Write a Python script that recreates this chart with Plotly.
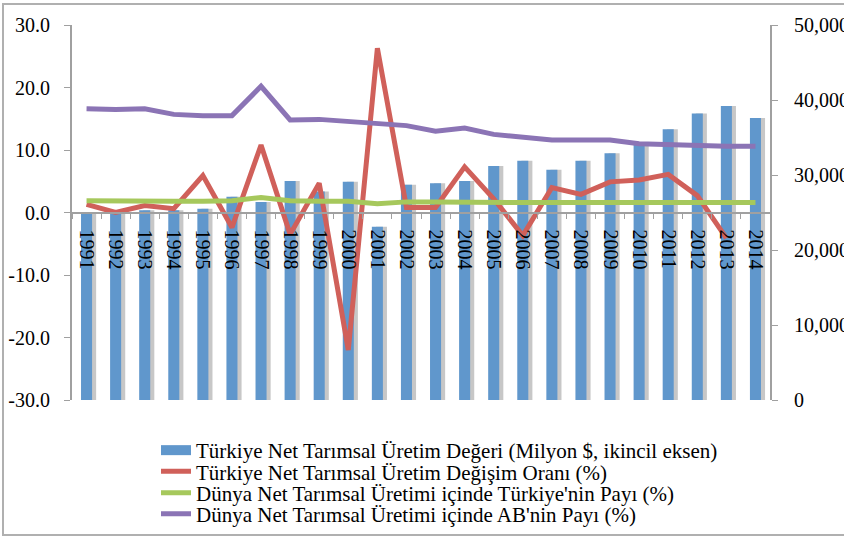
import plotly.graph_objects as go

# data
years = [str(y) for y in range(1991, 2015)]

net_value = [24900, 25000, 25300, 25300, 25500, 27100, 26400, 29200, 27800, 29100,
             23100, 28700, 28900, 29200, 31200, 31900, 30700, 31900, 32900, 34300,
             36100, 38200, 39200, 37600]

change_rate = [1.3, 0.0, 1.1, 0.6, 5.9, -2.4, 10.8, -3.5, 4.7, -22.0,
               26.3, 0.8, 0.8, 7.3, 2.2, -3.7, 4.0, 2.9, 4.9, 5.2,
               6.1, 2.7, -4.1, None]

tr_share = [1.9, 1.8, 1.8, 1.8, 1.8, 1.9, 2.4, 1.9, 1.8, 1.8,
            1.4, 1.7, 1.7, 1.6, 1.6, 1.6, 1.6, 1.6, 1.6, 1.6,
            1.6, 1.6, 1.6, 1.6]

eu_share = [16.6, 16.5, 16.6, 15.7, 15.5, 15.5, 20.2, 14.8, 14.9, 14.5,
            14.1, 13.9, 13.0, 13.5, 12.5, 12.1, 11.6, 11.6, 11.6, 11.0,
            10.9, 10.6, 10.6, 10.6]

left_ticks = [-30, -20, -10, 0, 10, 20, 30]
left_labels = ["-30.0", "-20.0", "-10.0", "0.0", "10.0", "20.0", "30.0"]

names = ["Türkiye Net Tarımsal Üretim Değeri (Milyon $, ikincil eksen)",
         "Türkiye Net Tarımsal Üretim Değişim Oranı (%)",
         "Dünya Net Tarımsal Üretimi içinde Türkiye'nin Payı (%)",
         "Dünya Net Tarımsal Üretimi içinde AB'nin Payı (%)"]

BLUE = "#6097CC"
RED = "#D0605A"
GREEN = "#A6C85C"
PURPLE = "#8B74B5"
FONT = "Liberation Serif"

fig = go.Figure()

# bar shadow
fig.add_trace(go.Bar(x=years, y=net_value, yaxis="y", width=0.38, offset=-0.05,
                     marker=dict(color="rgba(70,70,70,0.3)", line_width=0),
                     showlegend=False, hoverinfo="skip"))
# bars (right axis, drawn under the lines)
fig.add_trace(go.Bar(x=years, y=net_value, yaxis="y", width=0.38, offset=-0.19,
                     marker=dict(color=BLUE, line_width=0),
                     name=names[0], showlegend=False))
# legend entry for bars
fig.add_trace(go.Scatter(x=[None], y=[None], yaxis="y2", mode="lines",
                         line=dict(color=BLUE, width=10), name=names[0], legend="legend"))

fig.add_trace(go.Scatter(x=years, y=change_rate, yaxis="y2", mode="lines",
                         line=dict(color=RED, width=5), name=names[1], legend="legend2"))
fig.add_trace(go.Scatter(x=years, y=tr_share, yaxis="y2", mode="lines",
                         line=dict(color=GREEN, width=5), name=names[2], legend="legend3"))
fig.add_trace(go.Scatter(x=years, y=eu_share, yaxis="y2", mode="lines",
                         line=dict(color=PURPLE, width=5), name=names[3], legend="legend4"))

# px -> paper coordinates of the plot area
def px_x(v):
    return (v - 72) / 698

def px_y(v):
    return (400 - v) / 375

tick_font = dict(family=FONT, size=20, color="black")

def legend_at(row_y):
    return dict(x=156 / 844, y=(536 - row_y) / 536, xref="container", yref="container",
                xanchor="left", yanchor="middle",
                font=dict(family=FONT, size=21, color="black"),
                bgcolor="rgba(0,0,0,0)", itemwidth=30)

fig.update_layout(
    width=844, height=536,
    margin=dict(l=72, r=74, t=25, b=136, autoexpand=False),
    paper_bgcolor="white", plot_bgcolor="white",
    font=dict(family=FONT, size=20, color="black"),
    barmode="overlay",
    xaxis=dict(type="category", anchor="free", position=0.5, automargin=False,
               showline=True, linecolor="#A0A0A0", linewidth=2,
               ticks="outside", tickson="boundaries", ticklen=5, tickcolor="#A0A0A0",
               ticklabelstandoff=12,
               tickangle=90, tickfont=tick_font, showgrid=False, zeroline=False),
    yaxis=dict(side="right", range=[0, 50000], dtick=10000, tickformat=",d",
               automargin=False, ticklabelstandoff=12,
               showline=True, linecolor="#A0A0A0", linewidth=2,
               ticks="outside", ticklen=6, tickcolor="#A0A0A0",
               showgrid=False, zeroline=False, tickfont=tick_font),
    yaxis2=dict(overlaying="y", side="left", range=[-30, 30],
                tickvals=left_ticks, ticktext=left_labels,
                automargin=False, ticklabelstandoff=10,
                showline=True, linecolor="#A0A0A0", linewidth=2,
                ticks="outside", ticklen=6, tickcolor="#A0A0A0",
                showgrid=False, zeroline=False, tickfont=tick_font),
    legend=legend_at(450.5),
    legend2=legend_at(471.7),
    legend3=legend_at(493),
    legend4=legend_at(514),
    shapes=[dict(type="rect", xref="paper", yref="paper",
                 x0=px_x(3), x1=px_x(850), y0=px_y(535), y1=px_y(4),
                 line=dict(color="#B0B0B0", width=2), layer="below")],
)

fig.write_html("out.html", config={"displayModeBar": False},
               post_script="document.body.style.margin='0px';")
